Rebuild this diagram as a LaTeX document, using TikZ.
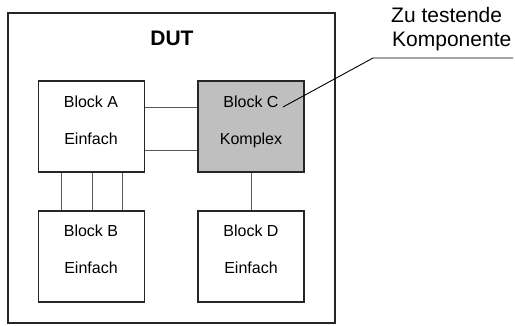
\documentclass[tikz,border=0pt]{standalone}
\usepackage{fontspec}
\setmainfont{Liberation Sans}
\begin{document}
\begin{tikzpicture}[x=1pt,y=-1pt,
  blockbox/.style={draw=black!85, line width=1.2pt, minimum width=106pt, minimum height=91pt, inner sep=0pt},
  blocktext/.style={anchor=base, inner sep=0pt, font=\fontsize{16}{18}\selectfont},
  wire/.style={draw=black!65, line width=0.9pt},
  leader/.style={draw=black, line width=0.9pt}]
  \useasboundingbox (0,0) rectangle (515,325);

  % device under test
  \node[draw=black!85, line width=1.6pt, minimum width=327pt, minimum height=310pt, inner sep=0pt] (dut) at (171.5,168) {};
  \node[anchor=base, inner sep=0pt, font=\fontsize{21}{24}\selectfont\bfseries] (duttitle) at (172,45) {DUT};

  % blocks
  \node[blockbox] (a) at (91.5,126.5) {};
  \node[blockbox, fill=black!25] (c) at (251,126.5) {};
  \node[blockbox] (b) at (91.5,256.5) {};
  \node[blockbox] (d) at (251,256.5) {};

  \node[blocktext] (alabel) at (91,107.3) {Block A};
  \node[blocktext] (atype)  at (91,144) {Einfach};
  \node[blocktext] (clabel) at (251,107.3) {Block C};
  \node[blocktext] (ctype)  at (251,144) {Komplex};
  \node[blocktext] (blabel) at (91,236.7) {Block B};
  \node[blocktext] (btype)  at (91,273.3) {Einfach};
  \node[blocktext] (dlabel) at (251,236.7) {Block D};
  \node[blocktext] (dtype)  at (251,273.3) {Einfach};

  % connections
  \coordinate (r1) at (0,107);
  \coordinate (r2) at (0,150);
  \coordinate (v1) at (61,0);
  \coordinate (v2) at (92,0);
  \coordinate (v3) at (122,0);
  \coordinate (v4) at (251,0);
  \draw[wire] (a.east |- r1) -- (c.west |- r1);
  \draw[wire] (a.east |- r2) -- (c.west |- r2);
  \draw[wire] (v1 |- a.south) -- (v1 |- b.north);
  \draw[wire] (v2 |- a.south) -- (v2 |- b.north);
  \draw[wire] (v3 |- a.south) -- (v3 |- b.north);
  \draw[wire] (v4 |- c.south) -- (v4 |- d.north);

  % annotation
  \node[anchor=base west, inner sep=0pt, font=\fontsize{21}{24}\selectfont] (note1) at (391,22.7) {Zu testende};
  \node[anchor=base west, inner sep=0pt, font=\fontsize{21}{24}\selectfont] (note2) at (392,46) {Komponente};
  \coordinate (tip) at (283,107);
  \coordinate (knee) at (373,58);
  \coordinate (tail) at (513,58);
  \draw[leader] (tip) -- (knee) -- (tail);
\end{tikzpicture}
\end{document}
